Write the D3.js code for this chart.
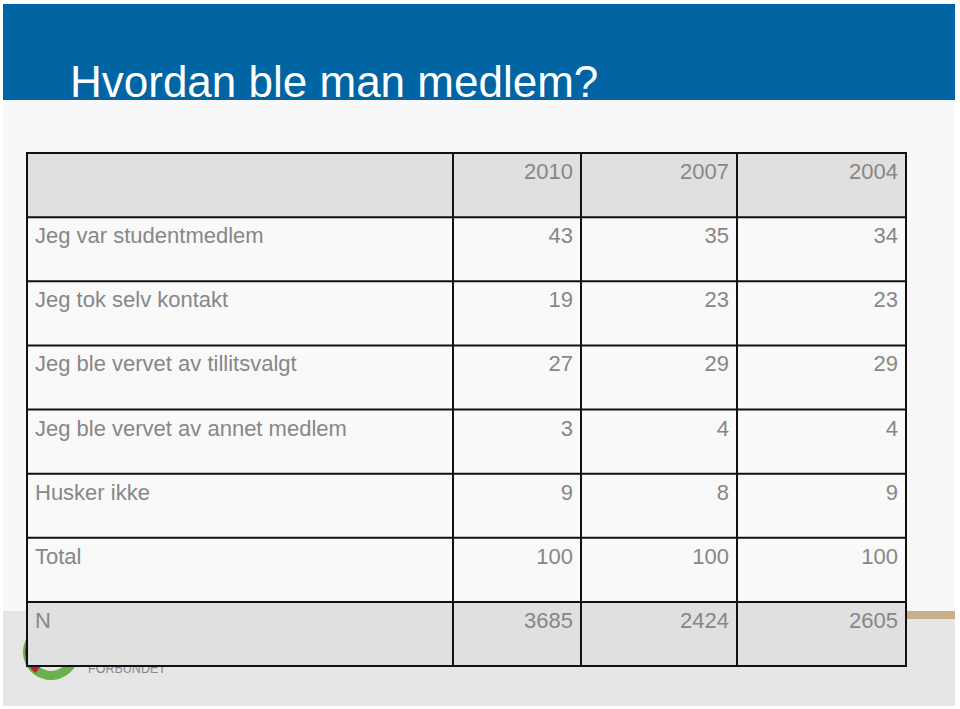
<!DOCTYPE html>
<html>
<head>
<meta charset="utf-8">
<title>Hvordan ble man medlem?</title>
<script src="https://cdnjs.cloudflare.com/ajax/libs/d3/7.8.5/d3.min.js"></script>
<style>
body { margin: 0; background: #fff; }
svg text { font-family: "Liberation Sans", Arial, sans-serif; }
.cell-text { fill: #878787; font-size: 22px; }
.title { fill: #fff; font-size: 44px; }
</style>
</head>
<body>
<div id="chart"></div>
<script>
// table data
var years = ["2010", "2007", "2004"];
var categories = ["Jeg var studentmedlem", "Jeg tok selv kontakt", "Jeg ble vervet av tillitsvalgt",
                  "Jeg ble vervet av annet medlem", "Husker ikke", "Total", "N"];
var values2010 = [43, 19, 27, 3, 9, 100, 3685];
var values2007 = [35, 23, 29, 4, 8, 100, 2424];
var values2004 = [34, 23, 29, 4, 9, 100, 2605];

var series = [values2010, values2007, values2004];

var W = 960, H = 709;
var svg = d3.select("#chart").append("svg")
  .attr("width", W).attr("height", H);

// slide background
svg.append("rect").attr("x", 3).attr("y", 100).attr("width", 952).attr("height", 511).attr("fill", "#f8f8f8");
svg.append("rect").attr("x", 3).attr("y", 611).attr("width", 952).attr("height", 95).attr("fill", "#e6e6e6");
svg.append("rect").attr("x", 3).attr("y", 4).attr("width", 952).attr("height", 96).attr("fill", "#0065a2");
svg.append("rect").attr("x", 907).attr("y", 611).attr("width", 48).attr("height", 8).attr("fill", "#c8b08a");

svg.append("text").attr("class", "title")
  .attr("x", 70).attr("y", 97)
  .text("Hvordan ble man medlem?");

// logo (partly hidden behind the table)
var logo = svg.append("g").attr("transform", "translate(51,652)");
logo.append("path")
  .attr("d", d3.arc()({innerRadius: 19, outerRadius: 28, startAngle: Math.PI * 0.45, endAngle: Math.PI * 1.65}))
  .attr("fill", "#6ab04c");
logo.append("path")
  .attr("d", d3.arc()({innerRadius: 18, outerRadius: 26, startAngle: Math.PI * 1.2, endAngle: Math.PI * 1.9}))
  .attr("fill", "#c8173f");
svg.append("text").attr("x", 88).attr("y", 673)
  .attr("fill", "#8a8a8a").attr("font-size", 15)
  .attr("textLength", 78).attr("lengthAdjust", "spacingAndGlyphs")
  .text("FORBUNDET");

// table layout
var tableLeft = 27, tableTop = 153, tableBottom = 666;
var colEdges = [27, 453, 581, 737, 906];
var rows = ["header"].concat(categories);

var y = d3.scaleBand().domain(d3.range(rows.length)).range([tableTop, tableBottom]);

var table = svg.append("g");

table.selectAll(".rowbg")
  .data(rows)
  .enter().append("rect")
  .attr("class", "rowbg")
  .attr("x", tableLeft)
  .attr("y", (d, i) => y(i))
  .attr("width", colEdges[4] - tableLeft)
  .attr("height", y.bandwidth())
  .attr("fill", (d, i) => (i === 0 || i === rows.length - 1) ? "#e0e0e0" : "#f9f9f9");

// grid lines
table.selectAll(".hline")
  .data(d3.range(rows.length + 1))
  .enter().append("line")
  .attr("x1", tableLeft).attr("x2", colEdges[4])
  .attr("y1", i => i < rows.length ? y(i) : tableBottom)
  .attr("y2", i => i < rows.length ? y(i) : tableBottom)
  .attr("stroke", "#111").attr("stroke-width", 2);

table.selectAll(".vline")
  .data(colEdges)
  .enter().append("line")
  .attr("x1", d => d).attr("x2", d => d)
  .attr("y1", tableTop - 1).attr("y2", tableBottom + 1)
  .attr("stroke", "#111").attr("stroke-width", 2);

// header years
table.selectAll(".year")
  .data(years)
  .enter().append("text")
  .attr("class", "cell-text")
  .attr("text-anchor", "end")
  .attr("x", (d, i) => colEdges[i + 2] - 8)
  .attr("y", y(0) + 26)
  .text(d => d);

// category labels
table.selectAll(".cat")
  .data(categories)
  .enter().append("text")
  .attr("class", "cell-text")
  .attr("x", tableLeft + 8)
  .attr("y", (d, i) => y(i + 1) + 26)
  .text(d => d);

// values
series.forEach(function (vals, j) {
  table.selectAll(".val" + j)
    .data(vals)
    .enter().append("text")
    .attr("class", "cell-text")
    .attr("text-anchor", "end")
    .attr("x", colEdges[j + 2] - 8)
    .attr("y", (d, i) => y(i + 1) + 26)
    .text(d => d);
});
</script>
</body>
</html>
